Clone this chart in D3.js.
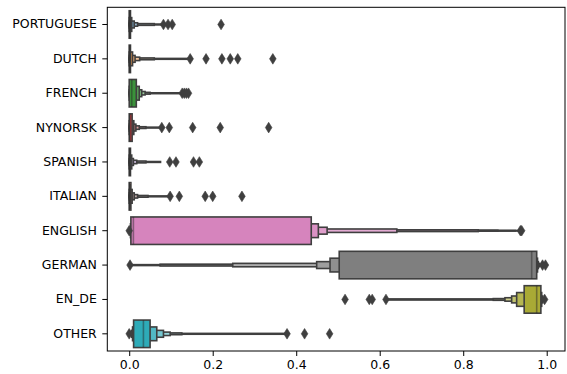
<!DOCTYPE html>
<html><head><meta charset="utf-8">
<script src="https://cdn.jsdelivr.net/npm/d3@7"></script>
<style>body{margin:0;background:#fff}svg{display:block}text{font-family:"DejaVu Sans",sans-serif}</style>
</head><body><svg id="c" width="567" height="374"></svg>
<script>
const categories = ["PORTUGUESE","DUTCH","FRENCH","NYNORSK","SPANISH","ITALIAN","ENGLISH","GERMAN","EN_DE","OTHER"];
const palette = ["#3274a1","#e1812c","#3a923a","#c03d3e","#9372b2","#845b53","#d684bd","#7f7f7f","#a9aa35","#2eabb8"];
// letter-value boxes per category, innermost first: [low, high]
const letterValues = [
  [[0,0.003],[0,0.006],[0,0.012],[0,0.02],[0,0.06],[0,0.082]],
  [[0,0.003],[0,0.008],[0,0.014],[0,0.025],[0,0.06],[0,0.146]],
  [[0,0.017],[0,0.024],[0,0.03],[0,0.038],[0,0.05],[0,0.127]],
  [[0,0.007],[0,0.011],[0,0.016],[0,0.024],[0,0.04],[0,0.078]],
  [[0,0.003],[0,0.006],[0,0.01],[0,0.018],[0,0.04],[0,0.075]],
  [[0,0.004],[0,0.007],[0,0.012],[0,0.02],[0,0.045],[0,0.098]],
  [[0.004,0.436],[0.003,0.453],[0.002,0.474],[0.0015,0.641],[0.001,0.836],[0.0008,0.883],[0.0005,0.925],[0.0004,0.93],[0.0003,0.934]],
  [[0.503,0.976],[0.481,0.978],[0.449,0.98],[0.248,0.982],[0.074,0.984],[0.01,0.986],[0.006,0.987],[0.004,0.988]],
  [[0.946,0.986],[0.928,0.988],[0.916,0.99],[0.90,0.991],[0.872,0.992],[0.615,0.993],[0.612,0.994]],
  [[0.0105,0.05],[0.008,0.066],[0.006,0.082],[0.004,0.098],[0.003,0.126],[0.002,0.378]]
];
const medians = [0.001,0.001,0.006,0.002,0.001,0.001,0.01,0.964,0.976,0.034];
const outliers = [
  [0.082,0.093,0.103,0.22],
  [0.146,0.184,0.222,0.242,0.26,0.344],
  [0.127,0.132,0.137,0.142],
  [0.078,0.096,0.152,0.218,0.334],
  [0.097,0.112,0.154,0.168],
  [0.098,0.12,0.182,0.2,0.27],
  [0.0,0.937,0.94],
  [0.002,0.99,0.997],
  [0.517,0.575,0.582,0.615,0.995],
  [0.0,0.378,0.42,0.48]
];
const xTicks = [0,0.2,0.4,0.6,0.8,1.0];

const L = 107.3, R = 565, T = 7.3, B = 351;
const svg = d3.select("#c");
const x = d3.scaleLinear().domain([-0.0525, 1.0438]).range([L, R]);
const y = d3.scaleBand().domain(categories).range([T, B]).padding(0);
const bw = y.bandwidth();
const gray = "#3f3f3f";
const lw = 1.6;

categories.forEach((cat, i) => {
  const cy = y(cat) + bw / 2;
  const hex = palette[i];
  const light = d3.interpolateRgb(hex, "#ffffff")(0.85);
  const lv = letterValues[i];
  const n = lv.length;
  const g = svg.append("g");
  for (let j = n - 1; j >= 0; j--) {
    const h = bw * 0.8 * Math.pow(2, -j);
    const t = n > 1 ? j / (n - 1) : 0;
    g.append("rect")
      .attr("x", x(lv[j][0])).attr("width", Math.max(0, x(lv[j][1]) - x(lv[j][0])))
      .attr("y", cy - h / 2).attr("height", h)
      .attr("fill", d3.interpolateRgb(hex, light)(t))
      .attr("stroke", gray).attr("stroke-width", lw);
  }
  const h0 = bw * 0.8;
  g.append("line")
    .attr("x1", x(medians[i])).attr("x2", x(medians[i]))
    .attr("y1", cy - h0 / 2).attr("y2", cy + h0 / 2)
    .attr("stroke", "rgb(38,38,38)").attr("stroke-opacity", 0.45).attr("stroke-width", lw);
  g.selectAll("path.o").data(outliers[i]).enter().append("path")
    .attr("class", "o")
    .attr("d", d => `M${x(d)},${cy - 5.3}L${x(d) + 3.3},${cy}L${x(d)},${cy + 5.3}L${x(d) - 3.3},${cy}Z`)
    .attr("fill", gray).attr("stroke", gray).attr("stroke-width", 0.6);
});

// axes
const xa = svg.append("g").attr("transform", `translate(0,${B})`)
  .call(d3.axisBottom(x).tickValues(xTicks).tickFormat(d3.format(".1f")).tickSizeOuter(0).tickSize(5).tickPadding(4));
const ya = svg.append("g").attr("transform", `translate(${L},0)`)
  .call(d3.axisLeft(y).tickSizeOuter(0).tickSize(5).tickPadding(5.5));
[xa, ya].forEach(a => {
  a.select(".domain").remove();
  a.selectAll("line").attr("stroke", "#000").attr("stroke-width", 1);
  a.selectAll("text").attr("fill", "#000").style("font-size", "12.5px").style("font-family", "DejaVu Sans");
});
svg.append("rect").attr("x", L).attr("y", T).attr("width", R - L).attr("height", B - T)
  .attr("fill", "none").attr("stroke", "#000").attr("stroke-width", 1);
</script></body></html>
